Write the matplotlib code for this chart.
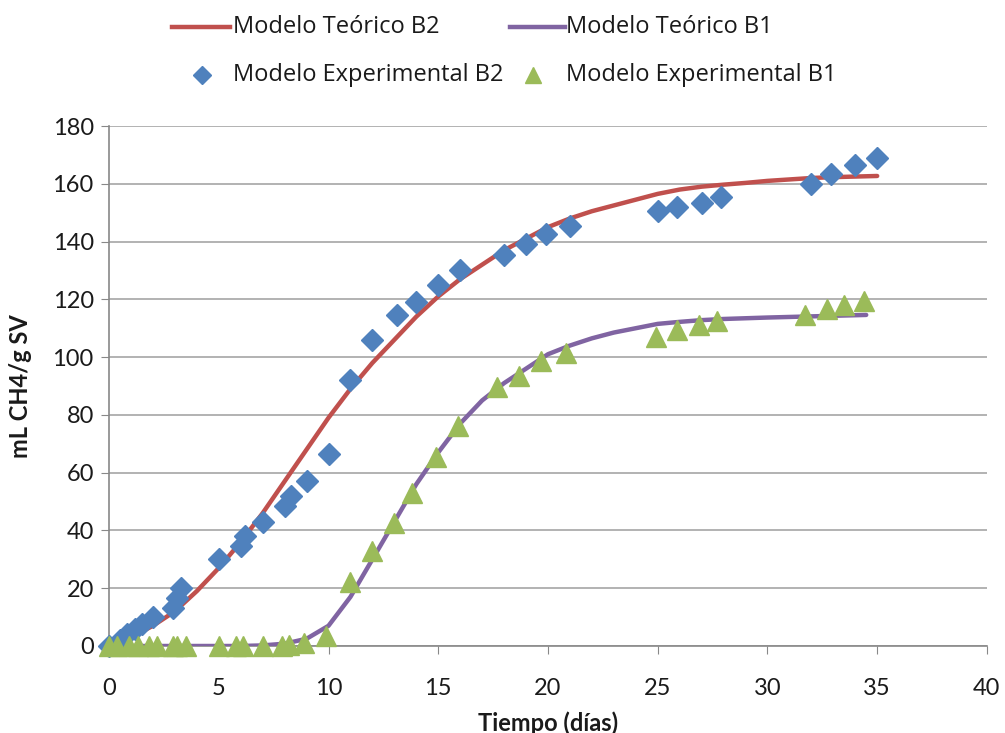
import matplotlib
matplotlib.use("Agg")
import matplotlib.pyplot as plt
from matplotlib.lines import Line2D

plt.rcParams['font.family'] = ['Lato', 'DejaVu Sans']

# Theoretical model curves
teo_b2_x = [0, 1, 2, 3, 4, 5, 6, 7, 8, 9, 10, 11, 12, 13, 14, 15, 16, 17, 18, 19, 20,
            21, 22, 23, 24, 25, 26, 27, 28, 29, 30, 31, 32, 33, 34, 35]
teo_b2_y = [0, 3, 7, 12, 19, 27, 36, 46, 57, 68, 79, 89, 98, 106, 114, 121, 127, 132, 137, 141, 145,
            148, 150.5, 152.5, 154.5, 156.5, 158, 159, 159.7, 160.3, 161, 161.5, 162, 162.3, 162.5, 162.7]

teo_b1_x = [0, 2, 4, 6, 7, 8, 9, 10, 11, 12, 13, 14, 15, 16, 17, 18, 19, 20, 21, 22, 23,
            24, 25, 26, 27, 28, 30, 32, 34.5]
teo_b1_y = [0, 0, 0, 0, 0.2, 0.8, 2.5, 7, 17, 30, 43, 56, 67, 77, 85, 91, 96, 101, 104, 106.5, 108.5,
            110, 111.5, 112.2, 112.8, 113.2, 113.7, 114.1, 114.6]

# Experimental data
exp_b2_x = [0, 0.5, 0.8, 1.2, 1.5, 2.0, 2.9, 3.1, 3.3, 5.0, 6.0, 6.2, 7.0, 8.0, 8.3, 9.0, 10.0,
            11.0, 12.0, 13.1, 14.0, 15.0, 16.0, 18.0, 19.0, 19.9, 21.0, 25.0, 25.9, 27.0, 27.9,
            32.0, 32.9, 34.0, 35.0]
exp_b2_y = [0, 2, 4, 6, 7.5, 10, 13, 16.5, 20, 30, 34.5, 38, 43, 48.5, 52, 57, 66.5,
            92, 106, 114.5, 119, 125, 130, 135.5, 139, 142.5, 145.5, 150.5, 152, 153.5, 155.5,
            160, 163.5, 166.5, 169]

exp_b1_x = [0, 0.35, 0.9, 1.3, 1.8, 2.2, 2.9, 3.1, 3.5, 5.0, 5.8, 6.1, 7.0, 7.9, 8.2, 8.9, 9.9,
            11.0, 12.0, 13.0, 13.8, 14.9, 15.9, 17.7, 18.7, 19.7, 20.8, 24.9, 25.9, 26.9, 27.7,
            31.7, 32.7, 33.5, 34.4]
exp_b1_y = [0, 0, 0, 0, 0, 0, 0, 0, 0, 0, 0, 0, 0, 0, 0.5, 1, 3.5,
            22, 33, 42.5, 53, 65.5, 76, 89.5, 93.5, 98.5, 101.5, 107, 109.5, 111, 112.5,
            114.5, 116.5, 118, 119.5]

labels = ["Modelo Teórico B2", "Modelo Teórico B1",
          "Modelo Experimental B2", "Modelo Experimental B1"]
xticks = [0, 5, 10, 15, 20, 25, 30, 35, 40]
yticks = [0, 20, 40, 60, 80, 100, 120, 140, 160, 180]

RED = "#C0504D"
PURPLE = "#8064A2"
BLUE = "#4F81BD"
GREEN = "#9BBB59"
TXT = "#1a1a1a"

fig = plt.figure(figsize=(10.05, 7.33), dpi=100)
ax = fig.add_axes([0.1085, 0.1187, 0.8735, 0.7094])

ax.plot(teo_b2_x, teo_b2_y, color=RED, lw=3.2, zorder=3, solid_capstyle='round')
ax.plot(teo_b1_x, teo_b1_y, color=PURPLE, lw=3.2, zorder=3, solid_capstyle='round')
ax.plot(exp_b2_x, exp_b2_y, linestyle='none', marker='D', ms=11, color=BLUE, mec=BLUE,
        zorder=4, clip_on=False)
ax.plot(exp_b1_x, exp_b1_y, linestyle='none', marker='^', ms=14, color=GREEN, mec=GREEN,
        zorder=5, clip_on=False)

ax.set_xlim(0, 40)
ax.set_ylim(0, 180)
ax.set_xticks(xticks)
ax.set_yticks(yticks)
ax.tick_params(axis='both', labelsize=17, colors=TXT, length=6, color='#888888')
ax.tick_params(axis='x', pad=17)
ax.tick_params(axis='y', pad=5)
ax.yaxis.grid(True, color='#A6A6A6', lw=1.2)
ax.set_axisbelow(True)
for s in ['top', 'right']:
    ax.spines[s].set_visible(False)
for s in ['left', 'bottom']:
    ax.spines[s].set_color('#888888')
    ax.spines[s].set_linewidth(1.2)

ax.set_xlabel("Tiempo (días)", fontsize=17, fontweight='bold', labelpad=9, color=TXT)
ax.set_ylabel("mL CH4/g SV", fontsize=17, fontweight='bold', labelpad=15, color=TXT)

# Legend drawn manually in figure coordinates
W, H = 1005.0, 733.0
def fx(px):
    return px / W
def fy(py):
    return 1 - py / H

row1, row2 = 27, 75
lf = dict(fontsize=17, color=TXT, va='center', ha='left', family=['Open Sans', 'DejaVu Sans'])
fig.add_artist(Line2D([fx(172), fx(230)], [fy(row1), fy(row1)], color=RED, lw=3.2,
                      transform=fig.transFigure))
fig.text(fx(233), fy(row1), labels[0], **lf)
fig.add_artist(Line2D([fx(510), fx(565)], [fy(row1), fy(row1)], color=PURPLE, lw=3.2,
                      transform=fig.transFigure))
fig.text(fx(566), fy(row1), labels[1], **lf)
fig.add_artist(Line2D([fx(202)], [fy(row2)], linestyle='none', marker='D', ms=9, color=BLUE,
                      transform=fig.transFigure))
fig.text(fx(233), fy(row2), labels[2], **lf)
fig.add_artist(Line2D([fx(533)], [fy(row2)], linestyle='none', marker='^', ms=12, color=GREEN,
                      transform=fig.transFigure))
fig.text(fx(566), fy(row2), labels[3], **lf)

fig.savefig("out.png", dpi=100)
